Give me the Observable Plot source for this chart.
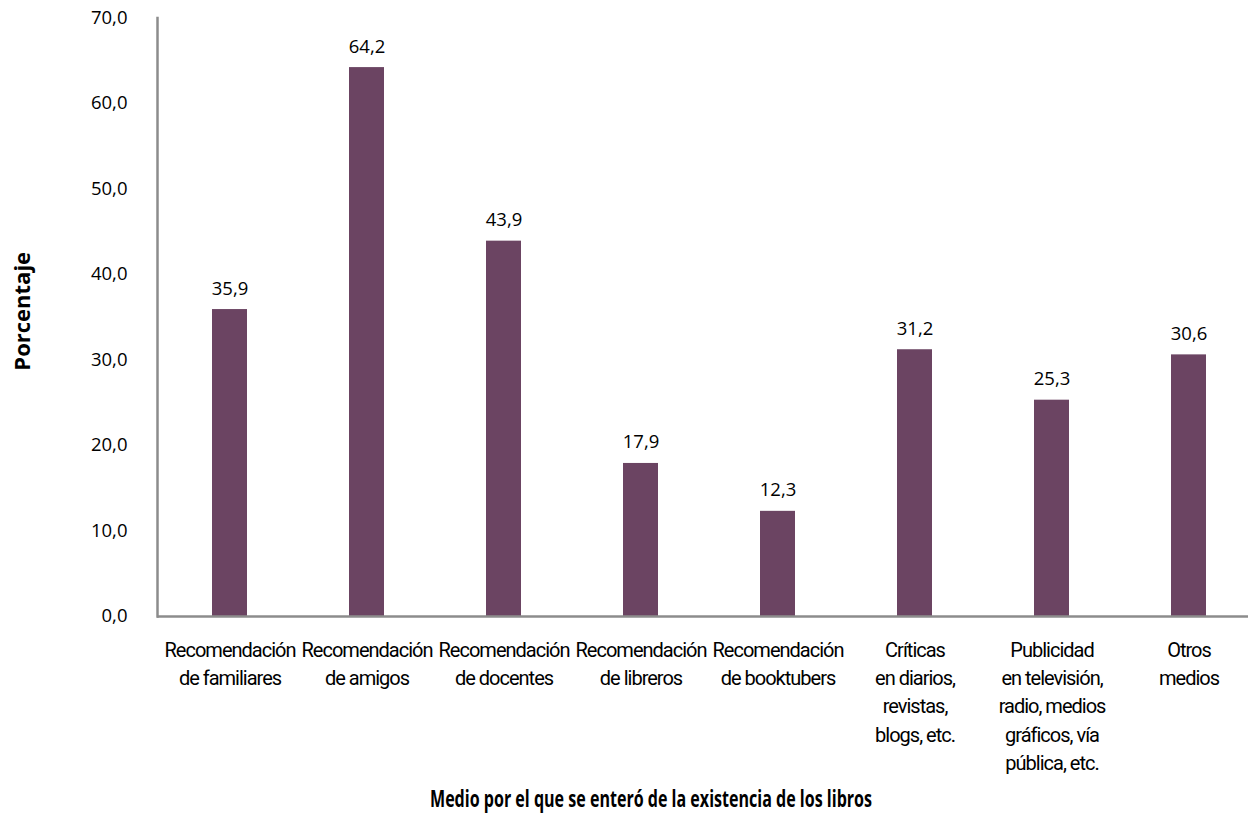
<!DOCTYPE html>
<html>
<head>
<meta charset="utf-8">
<script src="https://cdn.jsdelivr.net/npm/d3@7"></script>
<script src="https://cdn.jsdelivr.net/npm/@observablehq/plot@0.6"></script>
<style>
  html, body { margin: 0; padding: 0; background: #fff; }
  #chart svg { display: block; }
</style>
</head>
<body>
<div id="chart"></div>
<script>
const categories = [
  "Recomendación de familiares",
  "Recomendación de amigos",
  "Recomendación de docentes",
  "Recomendación de libreros",
  "Recomendación de booktubers",
  "Críticas en diarios, revistas, blogs, etc.",
  "Publicidad en televisión, radio, medios gráficos, vía pública, etc.",
  "Otros medios"
];
const tickLabels = [
  "Recomendación\nde familiares",
  "Recomendación\nde amigos",
  "Recomendación\nde docentes",
  "Recomendación\nde libreros",
  "Recomendación\nde booktubers",
  "Críticas\nen diarios,\nrevistas,\nblogs, etc.",
  "Publicidad\nen televisión,\nradio, medios\ngráficos, vía\npública, etc.",
  "Otros\nmedios"
];
const values = [35.9, 64.2, 43.9, 17.9, 12.3, 31.2, 25.3, 30.6];
const yTicks = [0, 10, 20, 30, 40, 50, 60, 70];
const yLabel = "Porcentaje";
const xLabel = "Medio por el que se enteró de la existencia de los libros";

const data = categories.map((c, i) => ({cat: c, value: values[i], label: tickLabels[i]}));
const fmt = v => v.toFixed(1).replace(".", ",");
const barColor = "#6b4462";
const axisColor = "#8c8c8c";

const chart = Plot.plot({
  width: 1248,
  height: 821,
  marginLeft: 157,
  marginRight: 0,
  marginTop: 17.5,
  marginBottom: 205,
  style: {fontFamily: "'Open Sans', sans-serif", color: "#000", background: "#fff"},
  x: {domain: categories, range: [157, 1261], paddingInner: 0.746, paddingOuter: 0.377, axis: null},
  y: {domain: [0, 70], axis: null},
  marks: [
    Plot.barY(data, {x: "cat", y: "value", fill: barColor}),
    Plot.ruleY([0], {stroke: axisColor, strokeWidth: 2.5}),
    Plot.frame({anchor: "left", stroke: axisColor, strokeWidth: 2.5}),
    Plot.axisY({ticks: yTicks, tickSize: 0, tickPadding: 30, tickFormat: fmt, fontSize: 18.5, label: null}),
    Plot.text(data, {x: "cat", y: "value", text: d => fmt(d.value), dy: -15, lineAnchor: "bottom", fontSize: 18.5, fill: "#000"}),
    Plot.text(data, {x: "cat", frameAnchor: "bottom", text: "label", lineAnchor: "top", dy: 20, lineHeight: 1.42, fontSize: 20, fontFamily: "Roboto, sans-serif", fill: "#000"}),
    Plot.text([yLabel], {frameAnchor: "left", textAnchor: "middle", dx: -135, dy: -6, rotate: -90, text: d => d, fontSize: 22, fontWeight: "bold", fill: "#000"}),
    Plot.text([xLabel], {frameAnchor: "bottom", textAnchor: "middle", dx: -52, dy: 190, text: d => d, fontSize: 23, fontWeight: "bold", fill: "#000", fontFamily: "'Open Sans', sans-serif"})
  ]
});
// condensed letter spacing for category labels; condensed x-axis title
const textGroups = chart.querySelectorAll('g[aria-label="text"]');
if (textGroups[1]) textGroups[1].style.letterSpacing = "-1px";
if (textGroups[3]) {
  textGroups[3].querySelectorAll("text").forEach(t => {
    t.setAttribute("textLength", 442);
    t.setAttribute("lengthAdjust", "spacingAndGlyphs");
  });
}
document.getElementById("chart").appendChild(chart);
</script>
</body>
</html>
